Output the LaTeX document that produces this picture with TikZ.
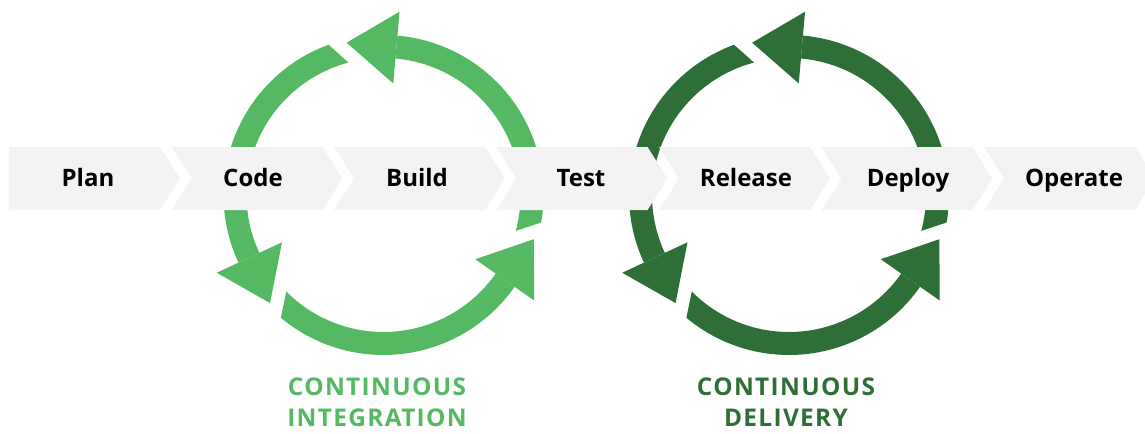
\documentclass[tikz,border=0pt]{standalone}
\usepackage{fontspec}
\setmainfont{Open Sans}
\newfontfamily\stagefont{Open Sans}
\newfontfamily\loopfont{Open Sans}[LetterSpace=5.5]
\usetikzlibrary{calc}
\definecolor{ciGreen}{HTML}{54B962}
\definecolor{cdGreen}{HTML}{2E6E37}
\definecolor{stageGray}{HTML}{F3F3F3}

\begin{document}
\begin{tikzpicture}[x=0.75pt,y=0.75pt,
  stagetext/.style={font=\stagefont\bfseries\fontsize{18}{22}\selectfont,
    text=black, anchor=base, inner sep=0pt},
  looptext/.style={font=\loopfont\bfseries\fontsize{18.3}{22}\selectfont,
    anchor=base, inner sep=0pt, text depth=0pt}]
\useasboundingbox (0,0) rectangle (1145,433);
\clip (0,0) rectangle (1145,433);

% ring centres
\coordinate (ci) at (383.5,238);
\coordinate (cd) at (789,238);

% three arrow segments per ring, running counter-clockwise
\foreach \c/\col in {ci/ciGreen, cd/cdGreen} {
  \foreach \b in {85,205,325} {
    \fill[\col] ($(\c)+(\b-94.9:160)$)
      arc[start angle=\b-94.9, end angle=\b, radius=160]
      -- ($(\c)+(\b:137)$)
      arc[start angle=\b, end angle=\b-100.2, radius=137] -- cycle;
    \fill[\col] ($(\c)+(\b:112)$) -- ($(\c)+(\b:184)$)
      -- ($(\c)+(\b:148.5)+(\b+90:50)$) -- cycle;
  }
}

% pipeline stages as chevrons
\foreach \i/\name/\txt/\tx in {0/plan/Plan/88, 1/code/Code/253, 2/build/Build/417,
    3/test/Test/581, 4/release/Release/746, 5/deploy/Deploy/908, 6/operate/Operate/1074} {
  \pgfmathsetmacro\s{9+162.5*\i}
  \pgfmathsetmacro\n{\i>0 ? 20 : 0}
  \fill[stageGray] (\s,286) -- (\s+151,286) -- (\s+171,254.5) -- (\s+151,223)
    -- (\s,223) -- (\s+\n,254.5) -- cycle;
  \node[stagetext] (\name) at (\tx,246.5) {\txt};
}

% loop captions
\node[looptext, text=ciGreen] (ci-top) at (377,37.5) {CONTINUOUS};
\node[looptext, text=ciGreen] (ci-bottom) at (377,6.5) {INTEGRATION};
\node[looptext, text=cdGreen] (cd-top) at (786,37.5) {CONTINUOUS};
\node[looptext, text=cdGreen] (cd-bottom) at (786,6.5) {DELIVERY};
\end{tikzpicture}
\end{document}
